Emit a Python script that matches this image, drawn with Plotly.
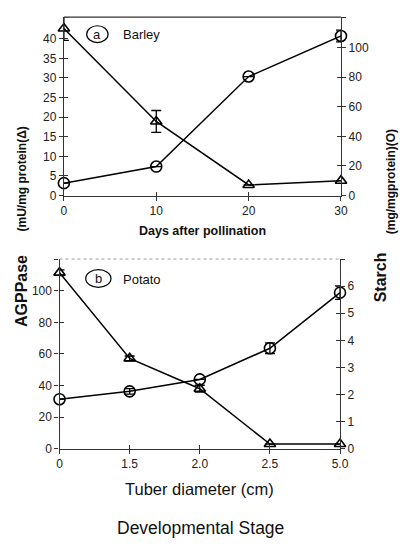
import plotly.graph_objects as go

# ---- data ----
barley_days = [0, 10, 20, 30]
barley_agppase = [42.6, 18.9, 2.7, 3.8]          # triangles, left axis
barley_agppase_err = [3.0, 2.8, 0, 0]
barley_starch = [8.4, 19.6, 80.4, 107.8]         # circles, right axis
barley_starch_err = [0, 0, 0, 4.0]

potato_labels = ["0", "1.5", "2.0", "2.5", "5.0"]
potato_idx = [0, 1, 2, 3, 4]
potato_agppase = [111.4, 57.2, 38.0, 3.0, 3.0]   # triangles, left axis
potato_agppase_err = [1.8, 1.5, 2.2, 0, 0]
potato_starch = [1.83, 2.12, 2.56, 3.71, 5.76]   # circles, right axis
potato_starch_err = [0, 0.1, 0, 0.2, 0.25]

W, H = 408, 549
FONT = "Liberation Sans, Arial, sans-serif"

def px(x):
    return x / W

def py(y):
    return 1 - y / H

top_xd = [px(54.5), px(340)]
top_yd = [py(190), py(9.3)]
bot_xd = [px(50), px(339)]
bot_yd = [py(446.5), py(254.3)]

fig = go.Figure()

line = dict(color="black", width=1.5)
tri = dict(symbol="triangle-up-open", size=10, color="black", line=dict(width=1.6, color="black"))
circ = dict(symbol="circle-open", size=11, color="black", line=dict(width=1.6, color="black"))

fig.add_trace(go.Scatter(x=barley_days, y=barley_agppase, mode="lines+markers", line=line, marker=tri,
                         error_y=dict(type="data", array=barley_agppase_err, color="black", thickness=1.3, width=5),
                         xaxis="x", yaxis="y", cliponaxis=False))
fig.add_trace(go.Scatter(x=barley_days, y=barley_starch, mode="lines+markers", line=line, marker=circ,
                         error_y=dict(type="data", array=barley_starch_err, color="black", thickness=1.3, width=5),
                         xaxis="x", yaxis="y2", cliponaxis=False))
fig.add_trace(go.Scatter(x=potato_idx, y=potato_agppase, mode="lines+markers", line=line, marker=tri,
                         error_y=dict(type="data", array=potato_agppase_err, color="black", thickness=1.3, width=5),
                         xaxis="x2", yaxis="y3", cliponaxis=False))
fig.add_trace(go.Scatter(x=potato_idx, y=potato_starch, mode="lines+markers", line=line, marker=circ,
                         error_y=dict(type="data", array=potato_starch_err, color="black", thickness=1.3, width=5),
                         xaxis="x2", yaxis="y4", cliponaxis=False))

# dummy traces for overlay axes (inside ticks -> crossing tick marks)
for xa, ya in [("x3", "y"), ("x4", "y3"), ("x", "y5"), ("x", "y6"), ("x2", "y7"), ("x2", "y8")]:
    fig.add_trace(go.Scatter(x=[None], y=[None], xaxis=xa, yaxis=ya, showlegend=False, hoverinfo="skip"))

tickfont = dict(family=FONT, size=12, color="#222")
common = dict(showline=True, linecolor="#333", linewidth=1.3, ticks="outside", ticklen=4,
              tickcolor="#333", tickwidth=1.2, showgrid=False, zeroline=False, tickfont=tickfont, fixedrange=True)
inside = dict(showline=False, ticks="inside", ticklen=4, tickcolor="#333", tickwidth=1.2,
              showgrid=False, zeroline=False, showticklabels=False, fixedrange=True)

fig.update_layout(
    width=W, height=H, margin=dict(l=0, r=0, t=0, b=0),
    paper_bgcolor="white", plot_bgcolor="white", showlegend=False,
    xaxis=dict(domain=top_xd, range=[0, 30], anchor="y", tickvals=[0, 10, 20, 30], **common),
    yaxis=dict(domain=top_yd, range=[0, 45.5], anchor="x", tickvals=list(range(0, 45, 5)), **common),
    yaxis2=dict(range=[0, 120.5], overlaying="y", side="right", anchor="x",
                tickvals=[0, 20, 40, 60, 80, 100, 120], ticktext=["0", "20", "40", "60", "80", "100", ""], **common),
    xaxis2=dict(domain=bot_xd, range=[0, 4], anchor="y3", tickvals=potato_idx, ticktext=potato_labels, **common),
    yaxis3=dict(domain=bot_yd, range=[0, 120], anchor="x2", tickvals=[0, 20, 40, 60, 80, 100, 120],
                ticktext=["0", "20", "40", "60", "80", "100", ""], **common),
    yaxis4=dict(range=[0, 7], overlaying="y3", side="right", anchor="x2",
                tickvals=list(range(0, 8)), ticktext=["0", "1", "2", "3", "4", "5", "6", ""], **common),
    xaxis3=dict(range=[0, 30], overlaying="x", anchor="y", tickvals=[0, 10, 20, 30], **inside),
    xaxis4=dict(range=[0, 4], overlaying="x2", anchor="y3", tickvals=potato_idx, **inside),
    yaxis5=dict(range=[0, 45.5], overlaying="y", side="left", anchor="x", tickvals=list(range(0, 45, 5)), **inside),
    yaxis6=dict(range=[0, 120.5], overlaying="y", side="right", anchor="x", tickvals=[0, 20, 40, 60, 80, 100, 120], **inside),
    yaxis7=dict(range=[0, 120], overlaying="y3", side="left", anchor="x2", tickvals=[0, 20, 40, 60, 80, 100, 120], **inside),
    yaxis8=dict(range=[0, 7], overlaying="y3", side="right", anchor="x2", tickvals=list(range(0, 8)), **inside),
)

shapes = [
    dict(type="line", xref="x domain", yref="y domain", x0=0, x1=1, y0=1, y1=1,
         line=dict(color="#333", width=1.3)),
    dict(type="line", xref="x2 domain", yref="y3 domain", x0=0, x1=1, y0=1, y1=1,
         line=dict(color="#999", width=1, dash="dot")),
    dict(type="circle", xref="paper", yref="paper", x0=px(78), x1=px(100), y0=py(35), y1=py(18),
         line=dict(color="black", width=1.2)),
    dict(type="circle", xref="paper", yref="paper", x0=px(77), x1=px(103), y0=py(283), y1=py(265),
         line=dict(color="black", width=1.2)),
]
fig.update_layout(shapes=shapes)

def ann(text, x, y, size, bold=False, angle=0, xanchor="center"):
    t = f"<b>{text}</b>" if bold else text
    return dict(text=t, x=px(x), y=py(y), xref="paper", yref="paper", showarrow=False,
                font=dict(family=FONT, size=size, color="#111"), textangle=angle,
                xanchor=xanchor, yanchor="middle")

fig.update_layout(annotations=[
    ann("a", 89, 27, 13),
    ann("Barley", 113, 27, 13, xanchor="left"),
    ann("b", 90, 274, 13),
    ann("Potato", 113, 275, 13, xanchor="left"),
    ann("(mU/mg protein(Δ)", 11, 173, 12, bold=True, angle=-90),
    ann("AGPPase", 11, 287, 16, bold=True, angle=-90),
    ann("(mg/mgprotein)(O)", 391, 176, 12, bold=True, angle=-90),
    ann("Starch", 381, 273, 16, bold=True, angle=-90),
    ann("Days after pollination", 197, 226, 12.5, bold=True),
    ann("Tuber diameter (cm)", 194, 487, 16.5),
    ann("Developmental Stage", 195, 527, 17.5),
])

fig.write_html("out.html")
